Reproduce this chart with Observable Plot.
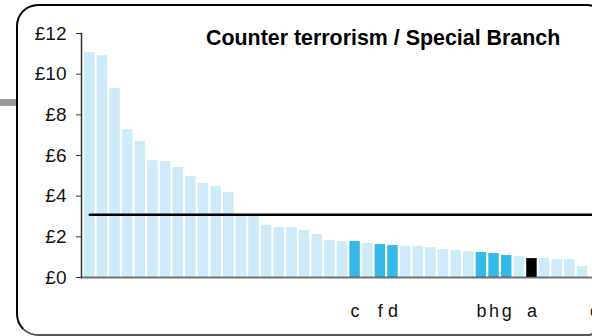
<!DOCTYPE html>
<html>
<head>
<meta charset="utf-8">
<script src="https://cdn.jsdelivr.net/npm/d3@7"></script>
<script src="https://cdn.jsdelivr.net/npm/@observablehq/plot@0.6"></script>
<style>
  html, body { margin: 0; padding: 0; overflow: hidden; background: #fff; }
  #wrap { position: relative; width: 592px; height: 336px; overflow: hidden; font-family: "Liberation Sans", Arial, sans-serif; }
  #box { position: absolute; left: 16px; top: 4px; width: 589px; height: 328px; border: 2px solid #000; border-bottom-color: #555; border-radius: 22px; }
  #stub { position: absolute; left: 0; top: 99px; width: 16px; height: 7px; background: #9a9a9a; }
  #title { position: absolute; left: 206px; top: 28px; font-size: 21.4px; line-height: 21px; font-weight: bold; color: #000; white-space: nowrap; }
  #chart { position: absolute; left: 0; top: 0; }
</style>
</head>
<body>
<div id="wrap">
  <div id="stub"></div>
  <div id="box"></div>
  <div id="chart"></div>
  <div id="title">Counter terrorism / Special Branch</div>
</div>
<script>
// Cost per head (£), forces sorted high to low
const values = [11.06, 10.91, 9.29, 7.27, 6.68, 5.75, 5.70, 5.41, 4.96, 4.62,
                4.47, 4.18, 3.06, 3.04, 2.57, 2.46, 2.46, 2.31, 2.11, 1.82,
                1.77, 1.77, 1.67, 1.62, 1.57, 1.52, 1.52, 1.47, 1.38, 1.33,
                1.28, 1.23, 1.18, 1.08, 1.03, 0.93, 0.93, 0.88, 0.88, 0.54, null];
const labels = ["", "", "", "", "", "", "", "", "", "",
                "", "", "", "", "", "", "", "", "", "",
                "", "c", "", "f", "d", "", "", "", "", "",
                "", "b", "h", "g", "", "a", "", "", "", "", "e"];
const average = 3.08;
const yTicks = [0, 2, 4, 6, 8, 10, 12];
const highlightKind = {c: "peer", f: "peer", d: "peer", b: "peer", h: "peer", g: "peer", a: "self"};
const colors = {base: "#cdebf8", peer: "#35b9e9", self: "#000000"};

const data = values.map((v, i) => ({
  id: i + 1,
  value: v,
  label: labels[i],
  kind: highlightKind[labels[i]] || "base"
}));
const ids = data.map(d => d.id);

const chart = Plot.plot({
  width: 592,
  height: 336,
  marginTop: 33,
  marginBottom: 59,
  marginLeft: 81,
  marginRight: 0,
  style: {background: "transparent", fontFamily: "'Liberation Sans', Arial, sans-serif", fontSize: "18px", color: "#111", overflow: "visible"},
  x: {type: "band", domain: ids, range: [81.9, 602], padding: 0.17, round: false, axis: null},
  y: {domain: [0, 12], ticks: yTicks, axis: null, label: null},
  marks: [
    Plot.barY(data.filter(d => d.value != null), {x: "id", y: "value", fill: d => colors[d.kind]}),
    Plot.lineY(ids, {x: d => d, y: () => average, stroke: "#000", strokeWidth: 2.5}),
    Plot.ruleY([0], {stroke: "#444", strokeWidth: 2, strokeOpacity: 0.75}),
    Plot.frame({anchor: "left", stroke: "#333", strokeWidth: 1.5}),
    Plot.axisY({ticks: yTicks, tickSize: 5, tickPadding: 10, tickFormat: d => "£" + d, fontSize: 19, stroke: "#333", label: null}),
    Plot.text(data.filter(d => d.label), {x: "id", text: "label", frameAnchor: "bottom", lineAnchor: "middle", dy: 33.5, fontSize: 18, fill: "#111"})
  ]
});
document.getElementById("chart").appendChild(chart);
</script>
</body>
</html>
